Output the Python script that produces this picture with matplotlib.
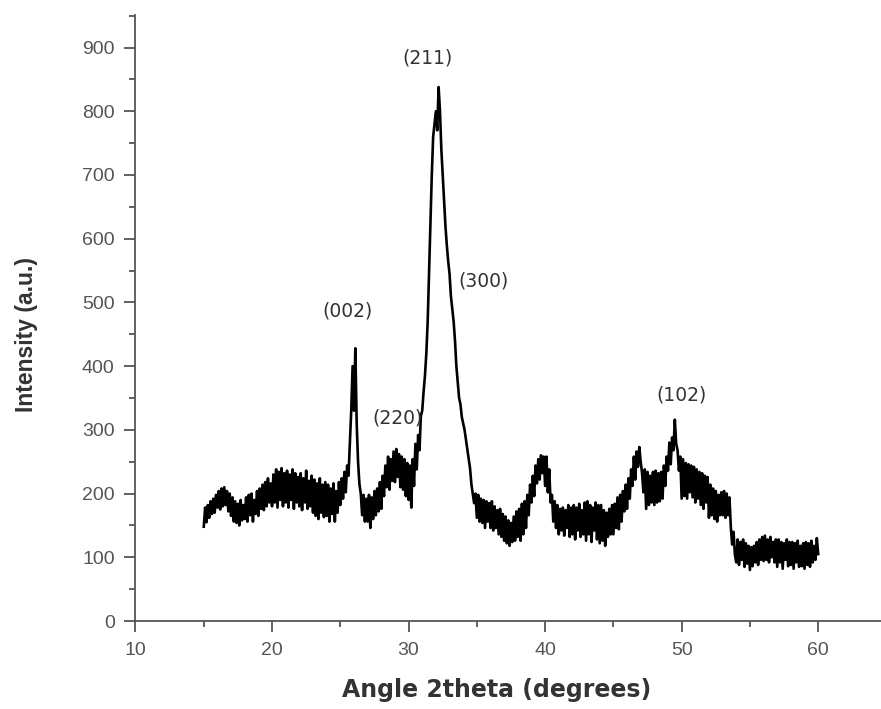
import numpy as np
import matplotlib
matplotlib.use("Agg")
import matplotlib.pyplot as plt
from matplotlib.ticker import MultipleLocator

# XRD pattern, 0.1 deg steps from 15.0 to 60.0
two_theta = np.round(np.arange(150, 601) * 0.1, 1)
intensity = [
    148, 178, 155, 182, 162, 188, 168, 192, 170, 198,   # 15
    178, 204, 175, 208, 180, 210, 182, 204, 172, 200,   # 16
    165, 194, 156, 188, 154, 184, 150, 190, 158, 182,   # 17
    160, 194, 156, 198, 166, 200, 156, 190, 168, 204,   # 18
    165, 208, 176, 214, 174, 218, 180, 224, 186, 216,   # 19
    180, 230, 186, 238, 178, 234, 190, 240, 180, 232,   # 20
    186, 236, 178, 230, 190, 238, 176, 232, 186, 226,   # 21
    180, 232, 174, 224, 186, 236, 176, 220, 180, 228,   # 22
    170, 222, 165, 216, 160, 224, 170, 214, 163, 218,   # 23
    165, 214, 156, 208, 168, 216, 156, 204, 170, 218,   # 24
    182, 224, 192, 234, 202, 244, 228, 278, 330, 400,   # 25
    330, 428, 310, 250, 215, 200, 166, 198, 156, 192,   # 26
    156, 198, 146, 194, 160, 204, 166, 208, 172, 218,   # 27
    176, 228, 196, 244, 210, 258, 206, 254, 220, 266,   # 28
    218, 270, 226, 262, 210, 258, 206, 254, 196, 248,   # 29
    190, 244, 178, 254, 212, 278, 238, 292, 268, 322,   # 30
    330, 360, 385, 420, 470, 545, 620, 700, 760, 780,   # 31
    800, 770, 838, 800, 740, 700, 660, 620, 590, 565,   # 32
    545, 510, 490, 470, 440, 400, 375, 350, 340, 320,   # 33
    310, 300, 285, 270, 255, 240, 215, 200, 185, 200,   # 34
    162, 198, 156, 192, 154, 190, 146, 188, 156, 185,   # 35
    146, 188, 142, 180, 146, 174, 136, 176, 132, 168,   # 36
    126, 164, 122, 158, 118, 154, 124, 164, 126, 172,   # 37
    132, 176, 126, 184, 136, 188, 146, 198, 166, 214,   # 38
    186, 228, 196, 244, 216, 254, 222, 260, 232, 258,   # 39
    212, 258, 202, 238, 186, 198, 156, 188, 146, 182,   # 40
    136, 176, 142, 178, 134, 174, 146, 182, 132, 178,   # 41
    136, 182, 128, 178, 142, 184, 132, 174, 136, 186,   # 42
    126, 188, 136, 182, 124, 178, 142, 186, 128, 182,   # 43
    122, 182, 126, 174, 118, 170, 132, 176, 136, 182,   # 44
    136, 184, 146, 194, 144, 198, 156, 204, 172, 214,   # 45
    176, 224, 192, 238, 212, 258, 222, 266, 242, 273,   # 46
    250, 232, 202, 238, 176, 234, 182, 228, 186, 234,   # 47
    182, 236, 186, 232, 188, 234, 192, 244, 212, 258,   # 48
    236, 280, 246, 288, 268, 316, 278, 268, 236, 258,   # 49
    192, 254, 196, 248, 192, 246, 202, 244, 194, 242,   # 50
    186, 238, 192, 234, 182, 232, 176, 228, 186, 226,   # 51
    162, 214, 166, 208, 160, 204, 156, 198, 166, 202,   # 52
    166, 204, 162, 200, 166, 194, 148, 120, 140, 104,   # 53
    92, 128, 88, 124, 96, 128, 85, 122, 90, 118,        # 54
    80, 116, 86, 118, 92, 124, 88, 128, 96, 132,        # 55
    94, 134, 96, 128, 92, 132, 100, 124, 92, 128,       # 56
    85, 128, 92, 124, 82, 122, 96, 128, 86, 124,        # 57
    88, 124, 82, 122, 92, 126, 85, 118, 86, 122,        # 58
    82, 124, 88, 122, 85, 126, 92, 118, 96, 130,        # 59
    105,
]

peak_labels = ["(211)", "(002)", "(220)", "(300)", "(102)"]
peak_x = [31.4, 25.5, 29.2, 35.5, 50.0]
peak_y = [884, 487, 319, 534, 355]

axcol = "#555555"

fig = plt.figure(figsize=(8.81, 7.09), dpi=100)
ax = fig.add_axes([0.1538, 0.1241, 0.8462, 0.8547])

ax.plot(two_theta, intensity, color="black", lw=1.9)

for lab, px, py in zip(peak_labels, peak_x, peak_y):
    ax.text(px, py, lab, ha="center", va="center", fontsize=13.5,
            family="DejaVu Sans", color="#333333")

ax.set_xlim(10, 64.6)
ax.set_ylim(0, 951)
ax.xaxis.set_major_locator(MultipleLocator(10))
ax.xaxis.set_minor_locator(MultipleLocator(5))
ax.yaxis.set_major_locator(MultipleLocator(100))
ax.yaxis.set_minor_locator(MultipleLocator(50))

for s in ["top", "right"]:
    ax.spines[s].set_visible(False)
for s in ["left", "bottom"]:
    ax.spines[s].set_color(axcol)
    ax.spines[s].set_linewidth(1.3)

ax.tick_params(which="major", direction="out", length=8, width=1.3, color=axcol,
               labelcolor="#555555", labelsize=14, pad=7)
ax.tick_params(which="minor", direction="out", length=4, width=1.3, color=axcol)
for t in ax.get_xticklabels() + ax.get_yticklabels():
    t.set_family("Liberation Sans")

ax.set_xlabel("Angle 2theta (degrees)", fontsize=17, fontweight="bold",
              family="DejaVu Sans", color="#333333")
ax.xaxis.set_label_coords(0.485, -0.094)
ax.set_ylabel("Intensity (a.u.)", fontsize=16.5, fontweight="bold",
              family="Liberation Sans", color="#333333")
ax.yaxis.set_label_coords(-0.131, 0.472)

fig.savefig("out.png", dpi=100)
